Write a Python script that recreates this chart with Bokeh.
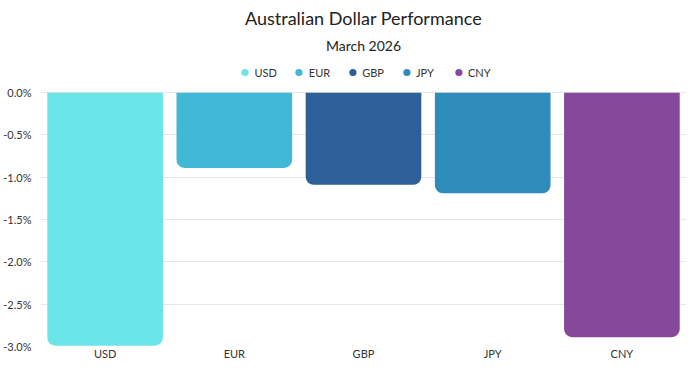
from bokeh.plotting import figure
from bokeh.models import (ColumnDataSource, FactorRange, Range1d, FixedTicker,
                          PrintfTickFormatter, Title, Legend, LegendItem)
from bokeh.embed import file_html
from bokeh.resources import INLINE

categories = ["USD", "EUR", "GBP", "JPY", "CNY"]
values = [-2.99, -0.89, -1.09, -1.19, -2.89]
colors = ["#6ce5e8", "#41b8d5", "#2d5f98", "#2e8bba", "#85489b"]
y_ticks = [-3.0, -2.5, -2.0, -1.5, -1.0, -0.5, 0.0]

FONT = "Lato"
Y_TOP = 0.356  # headroom above zero that holds the legend

src = ColumnDataSource(dict(cat=categories, val=values, col=colors))

p = figure(width=686, height=362, x_range=FactorRange(*categories, range_padding=0),
           y_range=Range1d(-3.0, Y_TOP), output_backend="svg", toolbar_location=None,
           min_border_left=5, min_border_right=0, min_border_top=0, min_border_bottom=0)
p.outline_line_color = None

p.vbar(x="cat", top=0, bottom="val", width=0.895, color="col", source=src,
       line_color=None, border_radius=(0, 0, 8, 8))

# legend
items = []
for c, col in zip(categories, colors):
    r = p.scatter(x=[categories[0]], y=[10], marker="circle", size=12, fill_color=col,
                  line_color=None)
    items.append(LegendItem(label=c, renderers=[r]))
legend = Legend(items=items, orientation="horizontal", location="top_center",
                label_text_font=FONT, label_text_font_size="11px", label_text_color="#333333",
                glyph_width=18, glyph_height=18, label_standoff=1, spacing=13,
                border_line_color=None, background_fill_alpha=0, padding=0, margin=1)
p.add_layout(legend)

p.add_layout(Title(text="March 2026", align="center", text_font=FONT, text_font_size="14px",
                   text_font_style="normal", text_color="#222222", offset=0, standoff=18), "above")
p.add_layout(Title(text="Australian Dollar Performance", align="center", text_font=FONT,
                   text_font_size="18px", text_font_style="normal", text_color="#222222",
                   standoff=-7), "above")
# thin blank spacer above the title
p.add_layout(Title(text=" ", align="center", text_font=FONT, text_font_size="5px",
                   standoff=0), "above")

# axes
p.yaxis.ticker = FixedTicker(ticks=y_ticks)
p.yaxis.formatter = PrintfTickFormatter(format="%.1f%%")
for ax in (p.xaxis[0], p.yaxis[0]):
    ax.axis_line_color = None
    ax.major_tick_line_color = None
    ax.minor_tick_line_color = None
    ax.major_tick_out = 0
    ax.major_tick_in = 0
    ax.minor_tick_out = 0
    ax.minor_tick_in = 0
    ax.major_label_text_font = FONT
    ax.major_label_text_font_size = "11px"
    ax.major_label_text_color = "#333333"
p.yaxis.major_label_standoff = 9
p.xaxis.major_label_standoff = 0
p.xgrid.grid_line_color = None
p.ygrid.grid_line_color = "#e6e6e6"
p.ygrid.grid_line_width = 1

open("out.html", "w").write(file_html(p, INLINE))
